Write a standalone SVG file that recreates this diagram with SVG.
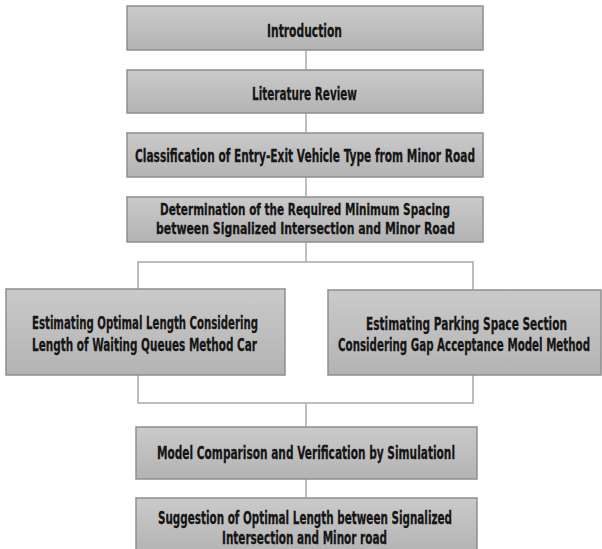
<svg xmlns="http://www.w3.org/2000/svg" width="602" height="549" viewBox="0 0 602 549">
  <defs>
    <linearGradient id="boxFill" x1="0" y1="0" x2="0" y2="1">
      <stop offset="0" stop-color="#cacaca"/>
      <stop offset="1" stop-color="#b3b3b3"/>
    </linearGradient>
  </defs>
  <style>
    .box { fill: url(#boxFill); stroke: #8e8e8e; stroke-width: 1.5; }
    .lbl { font-family: "DejaVu Sans", "Liberation Sans", sans-serif; font-weight: bold; font-size: 18px; fill: #151515; stroke: #151515; stroke-width: 0.3; text-anchor: middle; }
    .sm { font-size: 16px; }
    .conn { fill: none; stroke: #a9a9a9; stroke-width: 1.5; }
  </style>
  <rect width="602" height="549" fill="#ffffff"/>

  <g id="connectors">
    <line class="conn" x1="306" y1="50" x2="306" y2="70"/>
    <line class="conn" x1="306" y1="113" x2="306" y2="133"/>
    <line class="conn" x1="306" y1="177" x2="306" y2="197"/>
    <path class="conn" d="M306,242 V262 M138,289 V262 H473 V290"/>
    <path class="conn" d="M138,375 V403 H473 V375 M306,403 V427"/>
    <line class="conn" x1="306" y1="479" x2="306" y2="498"/>
  </g>

  <g id="introduction">
    <rect class="box" x="127" y="6" width="356" height="44"/>
    <text class="lbl" transform="translate(304.5,37) scale(0.655,1)" x="0" y="0" textLength="114.5" lengthAdjust="spacingAndGlyphs">Introduction</text>
  </g>

  <g id="literature-review">
    <rect class="box" x="127" y="70" width="356" height="43"/>
    <text class="lbl" transform="translate(304.5,100) scale(0.655,1)" x="0" y="0" textLength="160.3" lengthAdjust="spacingAndGlyphs">Literature Review</text>
  </g>

  <g id="classification">
    <rect class="box" x="127" y="133" width="356" height="44"/>
    <text class="lbl" transform="translate(305,162) scale(0.655,1)" x="0" y="0" textLength="519" lengthAdjust="spacingAndGlyphs">Classification of Entry-Exit Vehicle Type from Minor Road</text>
  </g>

  <g id="determination">
    <rect class="box" x="127" y="197" width="356" height="45"/>
    <text class="lbl sm" transform="translate(305,215) scale(0.737,1)" x="0" y="0" textLength="393.5" lengthAdjust="spacingAndGlyphs">Determination of the Required Minimum Spacing</text>
    <text class="lbl sm" transform="translate(305.5,234) scale(0.737,1)" x="0" y="0" textLength="405.7" lengthAdjust="spacingAndGlyphs">between Signalized Intersection and Minor Road</text>
  </g>

  <g id="waiting-queues">
    <rect class="box" x="6" y="289" width="279" height="86"/>
    <text class="lbl" transform="translate(145,329) scale(0.655,1)" x="0" y="0" textLength="345" lengthAdjust="spacingAndGlyphs">Estimating Optimal Length Considering</text>
    <text class="lbl" transform="translate(144.5,351) scale(0.655,1)" x="0" y="0" textLength="343.5" lengthAdjust="spacingAndGlyphs">Length of  Waiting Queues Method Car</text>
  </g>

  <g id="gap-acceptance">
    <rect class="box" x="328" y="290" width="273" height="85"/>
    <text class="lbl" transform="translate(466.5,330) scale(0.655,1)" x="0" y="0" textLength="306.9" lengthAdjust="spacingAndGlyphs">Estimating Parking Space Section</text>
    <text class="lbl" transform="translate(464,351) scale(0.655,1)" x="0" y="0" textLength="384.7" lengthAdjust="spacingAndGlyphs">Considering Gap Acceptance Model Method</text>
  </g>

  <g id="model-comparison">
    <rect class="box" x="136" y="427" width="341" height="52"/>
    <text class="lbl" transform="translate(306,459) scale(0.655,1)" x="0" y="0" textLength="455" lengthAdjust="spacingAndGlyphs">Model Comparison and Verification by Simulationl</text>
  </g>

  <g id="suggestion">
    <rect class="box" x="136" y="498" width="341" height="56"/>
    <text class="lbl" transform="translate(305,524) scale(0.655,1)" x="0" y="0" textLength="448.9" lengthAdjust="spacingAndGlyphs">Suggestion of Optimal Length between Signalized</text>
    <text class="lbl" transform="translate(304.5,544) scale(0.655,1)" x="0" y="0" textLength="251.9" lengthAdjust="spacingAndGlyphs">Intersection and Minor road</text>
  </g>
</svg>
